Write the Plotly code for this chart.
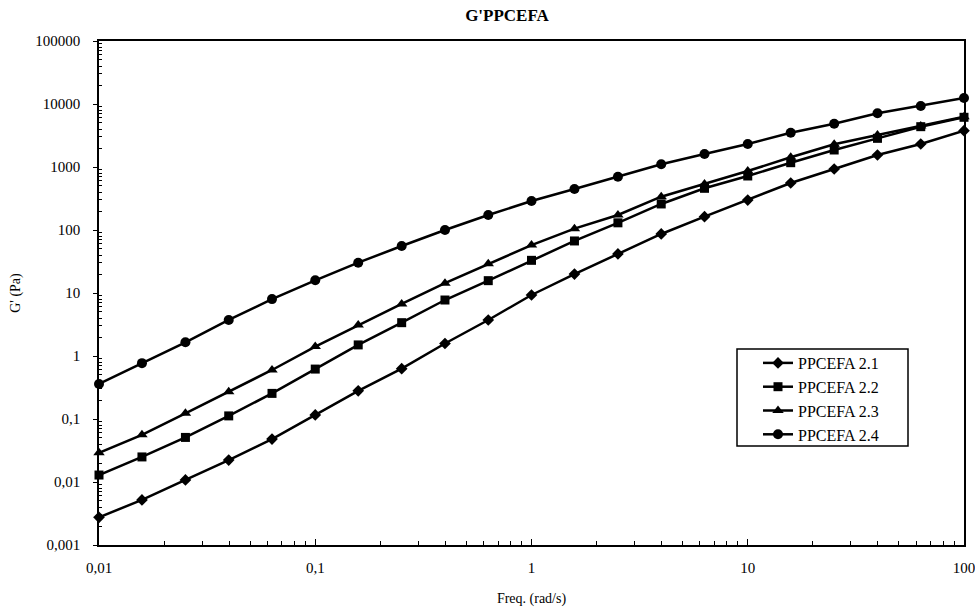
import plotly.graph_objects as go

freq = [0.01, 0.0158, 0.0251, 0.0398, 0.0631, 0.1, 0.158, 0.251, 0.398, 0.631,
        1, 1.58, 2.51, 3.98, 6.31, 10, 15.8, 25.1, 39.8, 63.1, 100]

g_21 = [0.00275, 0.0052, 0.0108, 0.0223, 0.048, 0.116, 0.28, 0.63, 1.58, 3.73,
        9.3, 20, 41.7, 86.5, 163, 299, 557, 929, 1550, 2317, 3770]
g_22 = [0.0129, 0.025, 0.051, 0.112, 0.255, 0.62, 1.5, 3.38, 7.74, 15.7,
        33, 67, 130, 259, 459, 720, 1170, 1862, 2850, 4365, 6150]
g_23 = [0.029, 0.056, 0.123, 0.27, 0.60, 1.41, 3.1, 6.7, 14.3, 29,
        57.7, 105, 173, 338, 537, 864, 1426, 2291, 3222, 4470, 6300]
g_24 = [0.36, 0.77, 1.65, 3.73, 8.0, 15.9, 30.3, 55.7, 100, 173,
        288, 447, 701, 1104, 1607, 2317, 3507, 4866, 7110, 9290, 12450]

names = ["PPCEFA 2.1", "PPCEFA 2.2", "PPCEFA 2.3", "PPCEFA 2.4"]
symbols = ["diamond", "square", "triangle-up", "circle"]
sizes = [9, 9, 10, 10]

x_tickvals = [0.01, 0.1, 1, 10, 100]
x_ticktext = ["0,01", "0,1", "1", "10", "100"]
y_tickvals = [0.001, 0.01, 0.1, 1, 10, 100, 1000, 10000, 100000]
y_ticktext = ["0,001", "0,01", "0,1", "1", "10", "100", "1000", "10000", "100000"]

FONT = "Liberation Serif"

fig = go.Figure()
for ys, nm, sym, sz in zip([g_21, g_22, g_23, g_24], names, symbols, sizes):
    fig.add_trace(go.Scatter(
        x=freq, y=ys, name=nm, mode="lines+markers",
        line=dict(color="black", width=2.5),
        marker=dict(symbol=sym, size=sz, color="black"),
        cliponaxis=False,
    ))

x_minor = [m * 10 ** e for e in range(-2, 2) for m in range(2, 10)]
y_minor = [m * 10 ** e for e in range(-3, 5) for m in range(2, 10)]

# legend frame (paper coords)
fig.add_shape(type="rect", xref="paper", yref="paper",
              x0=(737 - 99) / 865, x1=(908 - 99) / 865,
              y0=(545 - 446) / 504, y1=(545 - 349) / 504,
              line=dict(color="black", width=1.5), fillcolor="white", layer="below")

fig.update_layout(
    width=975, height=611,
    margin=dict(l=99, r=11, t=41, b=66),
    paper_bgcolor="white", plot_bgcolor="white",
    font=dict(family=FONT, color="black", size=15),
    title=dict(text="<b>G'PPCEFA</b>", x=0.52, xanchor="center", y=0.975, yanchor="middle",
               font=dict(family=FONT, size=17, color="black")),
    showlegend=True,
    legend=dict(x=(758 - 99) / 865, y=(545 - 346) / 504, xanchor="left", yanchor="top",
                borderwidth=0, bgcolor="rgba(0,0,0,0)",
                font=dict(family=FONT, size=16, color="black"),
                tracegroupgap=0, itemwidth=30),
    xaxis=dict(type="log", range=[-2, 2], tickvals=x_tickvals, ticktext=x_ticktext,
               automargin=False, ticklabeloverflow="allow",
               showgrid=False, zeroline=False, showline=True, linecolor="black", linewidth=1.5,
               mirror=True, ticks="inside", ticklen=6, tickcolor="black",
               minor=dict(tickvals=x_minor, ticks="inside", ticklen=4, tickcolor="black", showgrid=False),
               tickfont=dict(family=FONT, size=15), ticklabelstandoff=8,
               title=dict(text="Freq. (rad/s)", standoff=18, font=dict(family=FONT, size=14))),
    yaxis=dict(type="log", range=[-3, 5], tickvals=y_tickvals, ticktext=y_ticktext,
               automargin=False, ticklabeloverflow="allow",
               showgrid=False, zeroline=False, showline=True, linecolor="black", linewidth=1.5,
               mirror=True, ticks="outside", ticklen=4, tickcolor="black",
               minor=dict(tickvals=y_minor, ticks="inside", ticklen=3, tickcolor="black", showgrid=False),
               tickfont=dict(family=FONT, size=15), ticklabelstandoff=10,
               title=dict(text="G' (Pa)", standoff=11, font=dict(family=FONT, size=14))),
)

fig.write_html("out.html")
